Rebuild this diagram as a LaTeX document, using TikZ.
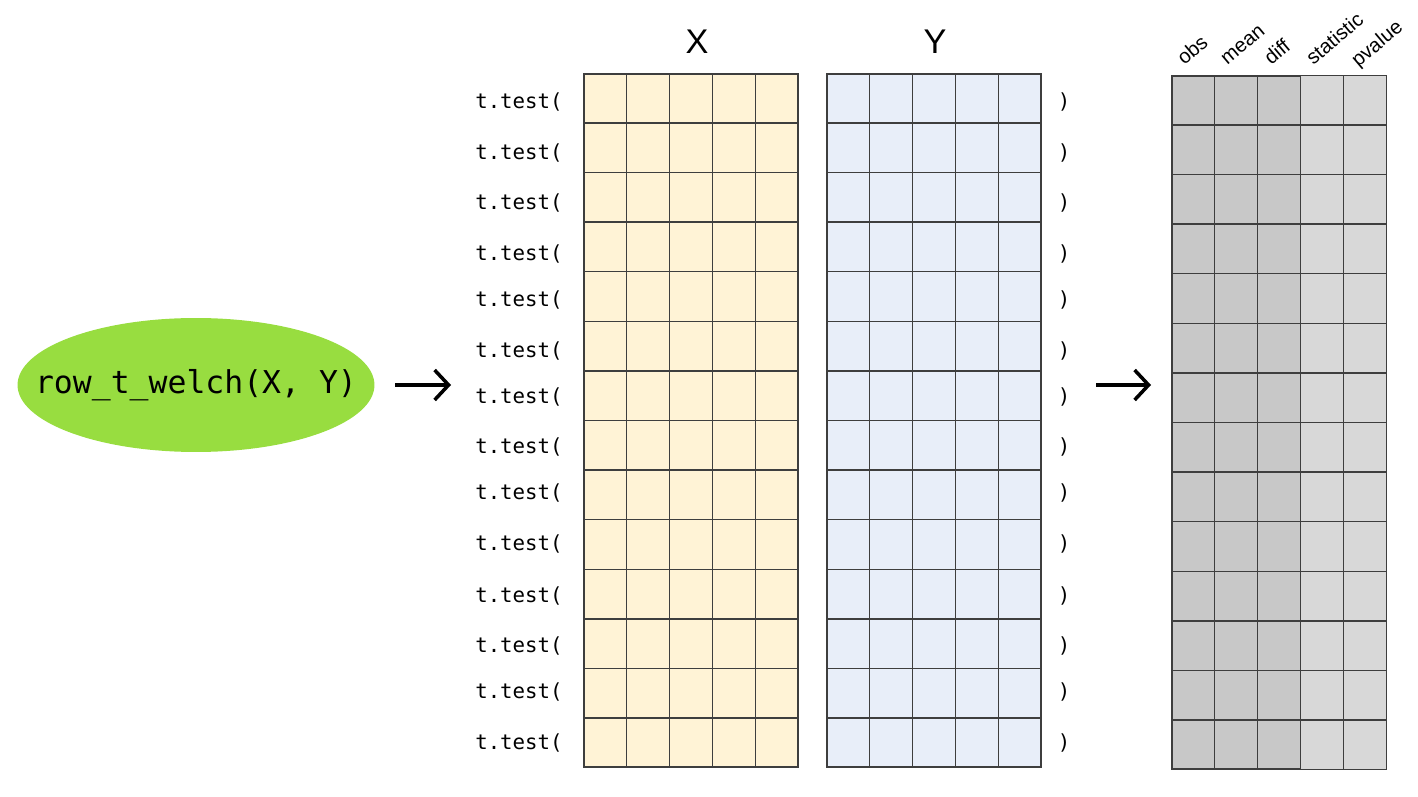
\documentclass[tikz,border=0pt]{standalone}
\usepackage{fontspec}
\setmainfont{Liberation Sans}
\setmonofont{DejaVu Sans Mono}
\usetikzlibrary{arrows.meta,shapes.geometric,calc}
\definecolor{welchgreen}{RGB}{152,221,64}
\definecolor{xyellow}{RGB}{255,243,214}
\definecolor{yblue}{RGB}{232,238,249}
\definecolor{resgray}{RGB}{200,200,200}
\definecolor{reslight}{RGB}{216,216,216}
\definecolor{gridgray}{RGB}{62,62,62}

\begin{document}
\begin{tikzpicture}[x=0.02cm,y=-0.02cm,
  matbox/.style={draw=gridgray,line width=0.8pt,inner sep=0pt,
    minimum width=4.28cm,minimum height=13.86cm},
  gridline/.style={draw=gridgray,line width=0.8pt},
  call/.style={font=\ttfamily\fontsize{11.8}{14}\selectfont,inner sep=0pt},
  hdr/.style={font=\fontsize{11.5}{14}\selectfont,rotate=40,anchor=base west,
    inner sep=0pt},
  big/.style={font=\fontsize{19.5}{22}\selectfont},
  bigarr/.style={-{Straight Barb[length=2.8mm,width=6mm]},line width=2pt}]

\useasboundingbox (0,0) rectangle (1418,797);

\node[ellipse,fill=welchgreen,minimum width=7.14cm,minimum height=2.68cm,
  inner sep=0pt] (welch) at (196,385) {};
\node[font=\ttfamily\fontsize{17.9}{20}\selectfont,inner sep=0pt]
  (welchtxt) at (welch.center) {row\_t\_welch(X, Y)};

% the three tables
\foreach \nm/\lx/\ty/\col in {xmat/584/74/xyellow,ymat/827/74/yblue,
    res/1172/76/resgray}{
  \node[matbox,fill=\col] (\nm) at (\lx+107,\ty+346.5) {};
}
\fill[reslight] ($(res.north west)!0.6!(res.north east)$)
  rectangle (res.south east);
\foreach \nm in {xmat,ymat,res}{
  \draw[gridline] (\nm.north west) rectangle (\nm.south east);
  \foreach \c in {1,...,4}
    \draw[gridline] ($(\nm.north west)!\c/5!(\nm.north east)$) --
      ($(\nm.south west)!\c/5!(\nm.south east)$);
  \foreach \r in {1,...,13}
    \draw[gridline] ($(\nm.north west)!\r/14!(\nm.south west)$) --
      ($(\nm.north east)!\r/14!(\nm.south east)$);
}

\node[big] (xlbl) at (697,42) {X};
\node[big] (ylbl) at (935,42) {Y};

% one call per row
\foreach \yy [count=\i] in {102,153,203,254,300,351,397,447,493,544,596,
    646,692,743}{
  \node[call,anchor=east] (open\i) at (563,\yy) {t.test(};
  \node[call] (close\i) at (1064,\yy) {)};
}

\node[hdr] (hobs) at (1184,66) {obs};
\node[hdr] (hmean) at (1227,66) {mean};
\node[hdr] (hdiff) at (1271,66) {diff};
\node[hdr] (hstat) at (1313,66) {statistic};
\node[hdr] (hpval) at (1358,68) {pvalue};

\coordinate (a1s) at (395,385);
\coordinate (a1e) at (451,385);
\coordinate (a2s) at (1096,385);
\coordinate (a2e) at (1151,385);
\draw[bigarr] (a1s) -- (a1e);
\draw[bigarr] (a2s) -- (a2e);
\end{tikzpicture}
\end{document}
